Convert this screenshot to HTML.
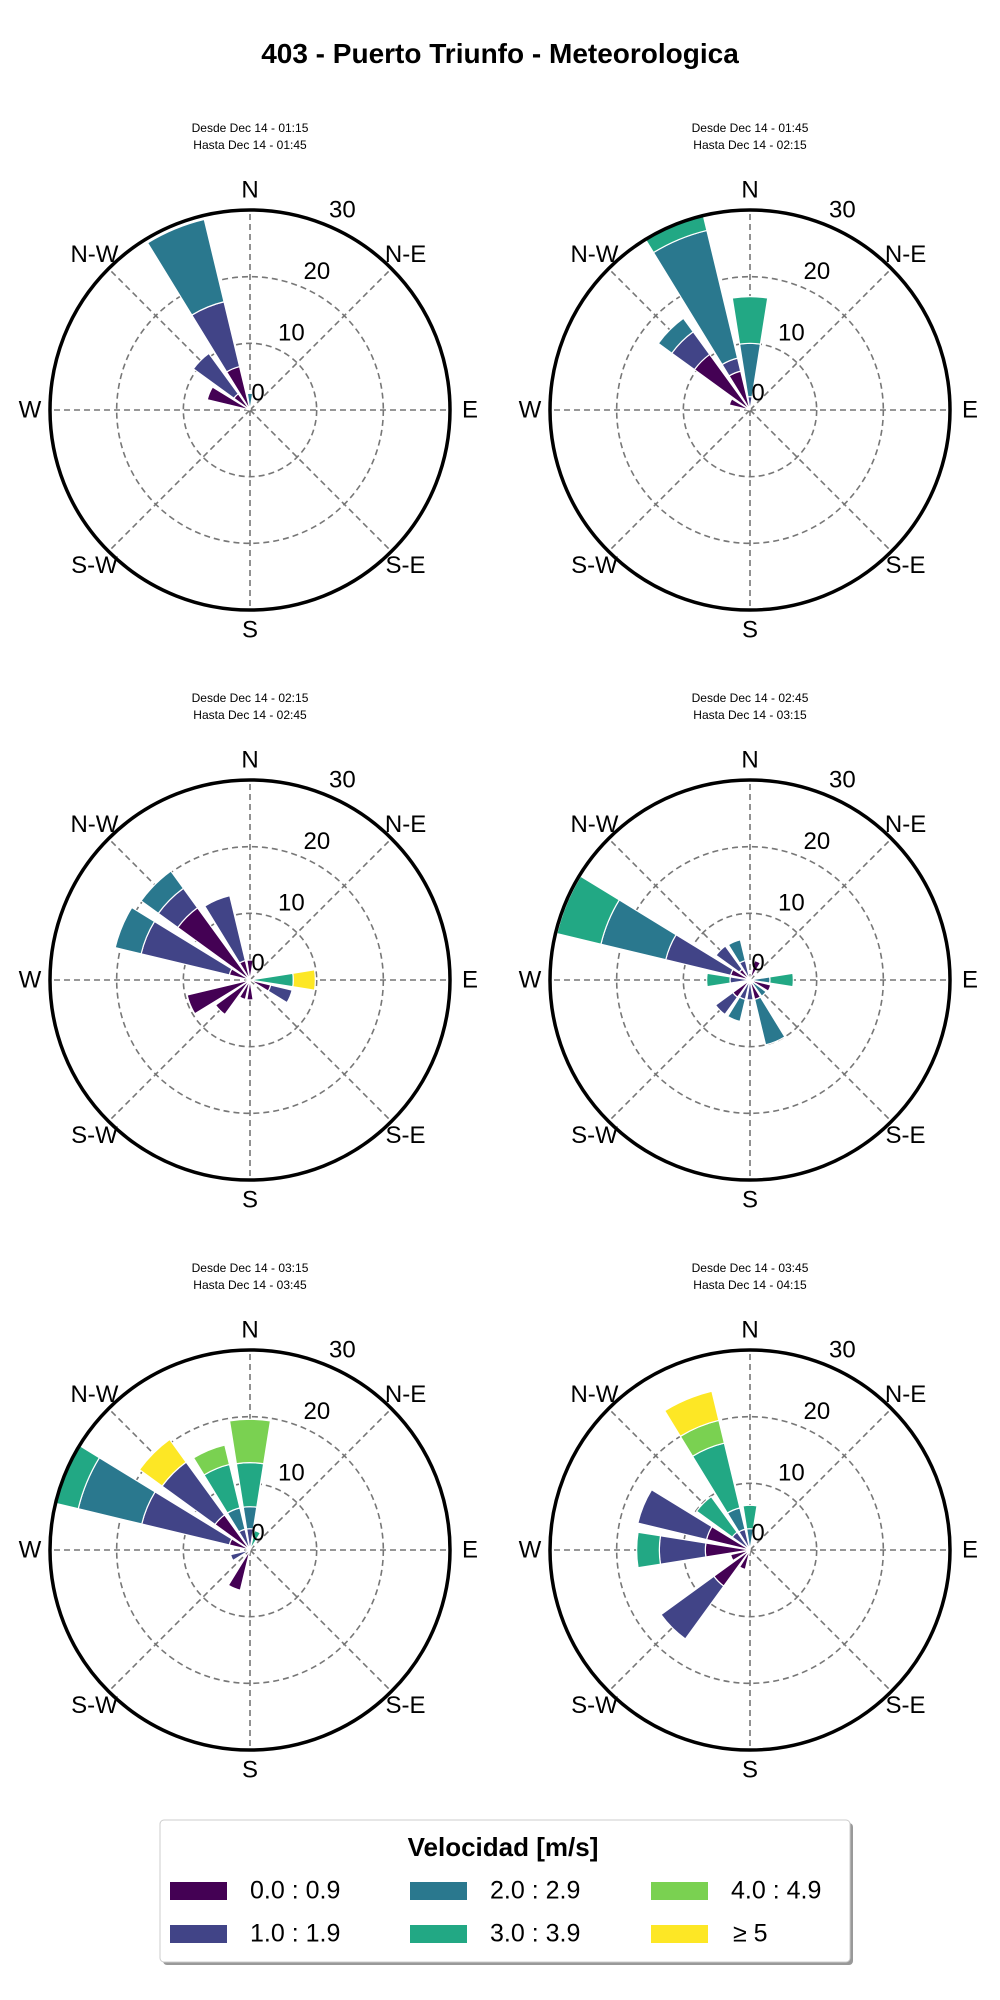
<!DOCTYPE html>
<html><head><meta charset="utf-8">
<style>
html,body{margin:0;padding:0;background:#fff;}
svg{display:block;font-family:"Liberation Sans","DejaVu Sans",sans-serif;}
</style></head>
<body>
<svg id="chart" width="1000" height="2000" viewBox="0 0 1000 2000" xmlns="http://www.w3.org/2000/svg">
<text x="500" y="63" text-anchor="middle" font-size="28" font-weight="bold">403 - Puerto Triunfo - Meteorologica</text>
<g id="panels"></g>
<g>
<rect x="160" y="1820" width="690" height="142" rx="4" fill="#999" transform="translate(3,3)"/>
<rect x="160" y="1820" width="690" height="142" rx="4" fill="#fff" stroke="#ccc"/>
<text x="503" y="1856" text-anchor="middle" font-size="26" font-weight="bold">Velocidad [m/s]</text>
<g id="legend-entries"></g>
</g>
</svg>
<script>
const speedLabels = ["0.0 : 0.9","1.0 : 1.9","2.0 : 2.9","3.0 : 3.9","4.0 : 4.9","\u2265  5"];
const speedColors = ["#440154","#414487","#2a788e","#22a884","#7ad151","#fde725"];
const dirNames = ["N","NNE","NE","ENE","E","ESE","SE","SSE","S","SSW","SW","WSW","W","WNW","NW","NNW"];
const rTicks = [0,10,20,30];
const compassLabels = ["N","N-E","E","S-E","S","S-W","W","N-W"];
const panelTitles = [
 ["Desde Dec 14 - 01:15","Hasta Dec 14 - 01:45"],
 ["Desde Dec 14 - 01:45","Hasta Dec 14 - 02:15"],
 ["Desde Dec 14 - 02:15","Hasta Dec 14 - 02:45"],
 ["Desde Dec 14 - 02:45","Hasta Dec 14 - 03:15"],
 ["Desde Dec 14 - 03:15","Hasta Dec 14 - 03:45"],
 ["Desde Dec 14 - 03:45","Hasta Dec 14 - 04:15"]];
// each entry: [direction, c0, c1, c2, c3, c4, c5]
const panel1 = [["N",0,0,2.5,0,0,0],["WNW",6.6,0,0,0,0,0],["NW",3,7.5,0,0,0,0],["NNW",6.7,10,12.7,0,0,0]];
const panel2 = [["N",0,2,8,7,0,0],["WNW",3.2,0,0,0,0,0],["NW",10.3,4.2,2.5,0,0,0],["NNW",6,2,19.7,2.6,0,0]];
const panel3 = [["N",3,0,0,0,0,0],["E",0,0,0,6.5,0,3.3],["ESE",3.2,3.3,0,0,0,0],["S",3,0,0,0,0,0],["SSW",3,0,0,0,0,0],["SW",6.4,0,0,0,0,0],["WSW",9.7,0,0,0,0,0],["WNW",3.2,13.6,4,0,0,0],["NW",13.4,3.6,3.2,0,0,0],["NNW",3,10,0,0,0,0]];
const panel4 = [["NNE",3,0,0,0,0,0],["E",0,0,3,3.5,0,0],["ESE",3.2,0,0,0,0,0],["SE",0,0,3,0,0,0],["SSE",3,0,7,0,0,0],["S",0,3,0,0,0,0],["SSW",0,3,3.4,0,0,0],["SW",3.2,3.2,0,0,0,0],["W",0,3,0,3.5,0,0],["WNW",3,10,10,6.8,0,0],["NW",2,4.3,0,0,0,0],["NNW",0,3,3.2,0,0,0]];
const panel5 = [["N",0,3.2,3.3,6.6,6.5,0],["NNE",0,0,0,3,0,0],["SSW",6.2,0,0,0,0,0],["WSW",0,3,0,0,0,0],["WNW",3.2,13.5,9.8,3.5,0,0],["NW",6.5,9.8,0,0,0,4.2],["NNW",0,3.2,3.3,6.7,3,0]];
const panel6 = [["N",0,0,3.2,3.5,0,0],["SSW",3,0,0,0,0,0],["SW",6.7,9.8,0,0,0,0],["WSW",3,0,0,0,0,0],["W",6.7,6.9,0,3.4,0,0],["WNW",6.7,10.6,0,0,0,0],["NW",0,3.3,0,6.6,0,0],["NNW",0,3.2,3.3,10,3.5,4.5]];
const panelData = [panel1,panel2,panel3,panel4,panel5,panel6];

const NS="http://www.w3.org/2000/svg";
const RMAX=30, RPX=200, HALF=9;
function mk(tag,attrs,parent){const e=document.createElementNS(NS,tag);for(const k in attrs)e.setAttribute(k,attrs[k]);parent.appendChild(e);return e;}
function rScale(v){return v/RMAX*RPX;}
function pt(cx,cy,deg,r){const a=deg*Math.PI/180;return [cx+r*Math.sin(a),cy-r*Math.cos(a)];}
function wedge(cx,cy,deg,r0,r1){
 const a0=deg-HALF,a1=deg+HALF;
 const p1=pt(cx,cy,a0,r0),p2=pt(cx,cy,a0,r1),p3=pt(cx,cy,a1,r1),p4=pt(cx,cy,a1,r0);
 return `M${p1[0]},${p1[1]} L${p2[0]},${p2[1]} A${r1},${r1} 0 0 1 ${p3[0]},${p3[1]} L${p4[0]},${p4[1]} A${r0},${r0} 0 0 0 ${p1[0]},${p1[1]} Z`;
}
const root=document.getElementById('panels');
const centers=[[250,410],[750,410],[250,980],[750,980],[250,1550],[750,1550]];
panelData.forEach((data,pi)=>{
 const [cx,cy]=centers[pi];
 const g=mk('g',{},root);
 
 
 panelTitles[pi].forEach((t,li)=>{
  const tx=mk('text',{x:cx,y:cy-278+li*17,'text-anchor':'middle','font-size':12},g);
  tx.textContent=t;
  
  
 });
 rTicks.slice(1,3).forEach(v=>{
  const c=mk('circle',{cx:cx,cy:cy,r:rScale(v),fill:'none',stroke:'#777','stroke-width':1.6,'stroke-dasharray':'6,4'},g);
  
  
 });
 for(let k=0;k<8;k++){
  const p=pt(cx,cy,k*45,RPX);
  const l=mk('line',{x1:cx,y1:cy,x2:p[0],y2:p[1],stroke:'#777','stroke-width':1.6,'stroke-dasharray':'6,4'},g);
  
  
 }
 data.forEach(row=>{
  const di=dirNames.indexOf(row[0]);
  let base=0;
  for(let s=0;s<6;s++){
   const v=row[s+1]; if(!v)continue;
   const path=mk('path',{d:wedge(cx,cy,di*22.5,rScale(base),rScale(base+v)),fill:speedColors[s],stroke:'#fff','stroke-width':1.2},g);
   
   
   base+=v;
  }
 });
 const oc=mk('circle',{cx:cx,cy:cy,r:RPX,fill:'none',stroke:'#000','stroke-width':3.5},g);
 
 
 rTicks.forEach(v=>{
  let x,y;
  if(v===0){x=cx+8;y=cy-16;}
  else{const p=pt(cx,cy,22.5,rScale(v)+10);x=p[0]+12;y=p[1]-5;}
  const t=mk('text',{x:x,y:y,'text-anchor':'middle','dominant-baseline':'middle','font-size':24},g);
  t.textContent=String(v);
  
  
 });
 compassLabels.forEach((lab,k)=>{
  const p=pt(cx,cy,k*45,220);
  const t=mk('text',{x:p[0],y:p[1]+1,'text-anchor':'middle','dominant-baseline':'middle','font-size':24},g);
  t.textContent=lab;
  
  
 });
});
const le=document.getElementById('legend-entries');
const colX=[170,410,651], rowY=[1891,1934];
speedLabels.forEach((lab,i)=>{
 const c=Math.floor(i/2), r=i%2;
 const rc=mk('rect',{x:colX[c],y:rowY[r]-9,width:57,height:18,fill:speedColors[i]},le);
 
 
 const t=mk('text',{x:colX[c]+(i===5?82:80),y:rowY[r]+1,'dominant-baseline':'middle','font-size':25},le);
 t.textContent=lab;
 
 
});
</script>
</body></html>
